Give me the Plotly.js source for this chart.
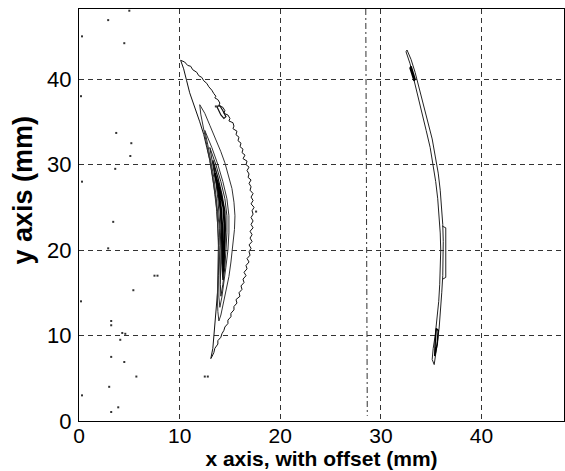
<!DOCTYPE html>
<html>
<head>
<meta charset="utf-8">
<script src="https://cdn.plot.ly/plotly-3.0.1.min.js"></script>
<style>html,body{margin:0;padding:0;background:#fff;}#chart{width:565px;height:471px;}</style>
</head>
<body>
<div id="chart"></div>
<script>
// ---- tick labels ----
const xTickVals = [0, 10, 20, 30, 40];
const xTickText = ["0", "10", "20", "30", "40"];
const yTickVals = [0, 10, 20, 30, 40];
const yTickText = ["0", "10", "20", "30", "40"];

// ---- left crescent: outer (jagged) contour ----
const leftOuterX = [10.1,10.5,10.8,11.1,11.3,11.7,11.9,12.2,12.4,12.7,12.9,13.2,13.4,13.6,13.5,13.8,14.0,13.9,14.3,14.5,14.4,14.8,15.0,14.9,15.3,15.4,15.3,15.7,15.6,15.9,15.8,16.1,16.0,16.3,16.2,16.5,16.3,16.7,16.6,16.9,16.7,16.9,16.8,17.1,16.9,17.1,17.0,17.3,17.1,17.3,17.1,17.4,17.2,17.3,17.1,17.3,17.1,17.3,17.0,17.2,17.0,17.2,16.9,17.1,16.9,17.0,16.7,16.9,16.6,16.7,16.4,16.6,16.3,16.4,16.1,16.2,15.9,16.0,15.6,15.7,15.4,15.4,15.1,15.1,14.8,14.8,14.5,14.4,14.2,14.1,13.8,13.8,13.5,13.4,13.2,13.1,13.3,13.4,13.5,13.6,13.7,13.8,13.85,13.9,13.9,13.85,13.8,13.7,13.6,13.4,13.2,13.0,12.7,12.4,12.0,11.4,11.0,10.7,10.4,10.1];
const leftOuterY = [42.2,42.0,41.6,41.5,41.1,40.8,40.4,40.2,39.8,39.5,39.1,38.7,38.3,38.0,37.8,37.6,37.2,36.9,36.7,36.3,36.0,35.8,35.4,35.1,34.9,34.5,34.2,33.9,33.5,33.2,32.8,32.5,32.1,31.8,31.4,31.1,30.7,30.4,30.0,29.7,29.3,28.9,28.5,28.2,27.8,27.4,27.0,26.6,26.2,25.8,25.4,25.0,24.6,24.2,23.8,23.4,23.0,22.6,22.2,21.8,21.4,21.0,20.6,20.2,19.8,19.4,19.0,18.6,18.2,17.8,17.4,17.0,16.6,16.2,15.8,15.4,15.0,14.6,14.2,13.8,13.4,13.0,12.6,12.2,11.8,11.4,11.0,10.6,10.2,9.8,9.4,9.0,8.5,8.0,7.5,7.3,8.5,9.8,11.0,12.5,14.0,15.5,17.0,18.5,20.0,21.5,23.0,24.5,26.0,27.5,29.0,30.5,32.0,33.5,35.0,37.0,38.4,39.8,41.2,42.2];

// ---- left crescent: inner contours ----
const leftC2X = [12.0,12.5,13.0,13.6,14.1,14.5,14.9,15.2,15.4,15.5,15.45,15.3,15.1,14.9,14.6,14.3,14.1,13.9,13.8,13.75,13.8,13.85,13.85,13.8,13.7,13.5,13.3,13.0,12.7,12.4,12.1,12.0];
const leftC2Y = [37.0,36.0,34.6,33.0,31.5,30.2,28.6,27.2,25.6,24.0,22.4,20.5,18.6,16.9,15.2,13.6,12.4,11.7,12.8,14.5,16.5,18.5,20.5,22.5,24.5,26.5,28.5,30.5,32.3,34.2,35.9,37.0];
const leftC3X = [12.5,13.2,13.8,14.3,14.7,14.9,14.9,14.8,14.6,14.4,14.2,14.0,13.9,13.9,13.95,14.0,13.95,13.8,13.6,13.4,13.1,12.8,12.5];
const leftC3Y = [34.0,32.0,30.0,28.0,26.0,24.0,22.0,20.0,18.0,16.0,14.5,13.3,14.5,16.5,18.5,20.5,22.5,24.5,26.5,28.5,30.5,32.3,34.0];
const leftC4X = [13.0,13.6,14.1,14.5,14.7,14.7,14.6,14.5,14.3,14.1,14.05,14.1,14.1,14.05,13.95,13.8,13.6,13.3,13.0];
const leftC4Y = [32.0,30.0,28.0,26.0,24.0,22.0,20.0,18.0,16.0,14.6,16.0,18.0,20.0,22.0,24.0,26.0,28.0,30.0,32.0];
const leftC5X = [13.3,13.8,14.2,14.5,14.55,14.5,14.4,14.3,14.2,14.2,14.15,14.05,13.85,13.6,13.3];
const leftC5Y = [30.5,28.5,26.5,24.5,22.5,20.5,18.5,16.5,18.5,20.5,22.5,24.5,26.5,28.5,30.5];
const leftC6X = [13.5,14.0,14.35,14.45,14.45,14.4,14.35,14.28,14.28,14.22,14.1,13.85,13.5];
const leftC6Y = [29.0,27.0,25.0,23.0,21.0,19.0,17.5,19.0,21.0,23.0,25.0,27.0,29.0];
const leftIslandX = [13.7,14.0,14.3,14.6,14.4,14.1,13.9,13.7];
const leftIslandY = [36.8,36.9,36.3,35.6,35.4,35.8,36.3,36.8];

// ---- right crescent ----
const rightOuterX = [32.6,33.0,33.4,33.8,34.2,34.7,35.1,35.4,35.7,35.9,36.05,36.15,36.2,36.2,36.15,36.05,35.95,35.8,35.65,35.5,35.3,35.1,35.2,35.4,35.6,35.75,35.85,35.9,35.95,35.9,35.8,35.65,35.45,35.2,34.9,34.5,34.1,33.7,33.3,32.9,32.5,32.6];
const rightOuterY = [43.4,42.3,40.8,39.0,37.0,35.0,33.0,31.0,29.0,27.0,25.0,23.0,21.0,19.0,17.0,15.0,13.0,11.0,9.5,8.0,6.6,7.2,8.5,10.0,12.0,14.0,16.0,18.0,20.0,22.0,24.0,26.0,28.0,30.0,32.0,34.0,36.0,38.0,40.0,41.8,43.2,43.4];
const rightSliverX = [36.1,36.45,36.45,36.15];
const rightSliverY = [22.8,22.6,16.8,16.6];
const rightLowX = [35.35,35.6,35.7,35.5,35.4,35.35];
const rightLowY = [7.6,9.0,10.6,10.8,9.2,7.6];
const rightTopX = [33.0,33.4,33.3,32.9,33.0];
const rightTopY = [41.5,40.0,39.8,41.3,41.5];

// ---- faint vertical artefact line ----
const vLineX = [28.5, 28.65];
const vLineY = [48.2, 0.6];

// ---- scattered noise specks ----
const noiseX = [4.5,2.9,3.7,5.2,3.6,5.1,3.4,2.9,7.5,7.8,5.4,3.2,3.2,4.3,4.6,4.1,3.2,4.5,5.7,12.5,12.8,3.0,3.2,3.9,13.6,17.6,0.3,0.2,0.3,0.2,0.3,5.0];
const noiseY = [44.2,46.9,33.7,32.5,29.5,31.0,23.3,20.2,17.0,17.0,15.3,11.7,11.2,10.3,10.2,9.5,7.5,6.9,5.2,5.2,5.2,4.0,1.05,1.6,36.8,24.5,45.0,38.0,28.0,14.0,3.0,48.0];

function trace(x, y, w, col) {
  return {type: 'scatter', mode: 'lines', x: x, y: y, hoverinfo: 'skip',
          line: {color: col || '#000', width: w || 1}};
}

const data = [
  trace(leftOuterX, leftOuterY, 1, '#111'),
  trace(leftC2X, leftC2Y, 1, '#333'),
  trace(leftC3X, leftC3Y, 1, '#333'),
  trace(leftC4X, leftC4Y, 1, '#222'),
  trace(leftC5X, leftC5Y, 1.3, '#111'),
  trace(leftC6X, leftC6Y, 2, '#000'),
  trace(leftIslandX, leftIslandY, 1.2, '#111'),
  trace(rightOuterX, rightOuterY, 1, '#222'),
  trace(rightSliverX, rightSliverY, 1, '#222'),
  trace(rightLowX, rightLowY, 1.5, '#000'),
  trace(rightTopX, rightTopY, 1.5, '#000'),
  {type: 'scatter', mode: 'lines', x: vLineX, y: vLineY, hoverinfo: 'skip',
   line: {color: '#333', width: 1, dash: '6px,3px,2px,3px'}},
  {type: 'scatter', mode: 'markers', x: noiseX, y: noiseY, hoverinfo: 'skip',
   marker: {color: '#333', size: 2, symbol: 'square'}}
];

const fontFam = '"Liberation Sans", Arial, sans-serif';
const axisCommon = {
  range: [0, 48.2],
  showgrid: true, gridcolor: '#333', gridwidth: 1, griddash: '5px,4px',
  zeroline: false,
  showline: true, linecolor: '#000', linewidth: 1, mirror: true,
  ticks: '',
  tickfont: {size: 21, color: '#000', family: fontFam},
  automargin: false, fixedrange: true
};

const layout = {
  width: 565, height: 471,
  margin: {l: 79, r: 1, t: 9, b: 50},
  paper_bgcolor: '#fff', plot_bgcolor: '#fff',
  showlegend: false,
  font: {family: fontFam, color: '#000'},
  xaxis: Object.assign({}, axisCommon, {
    tickvals: xTickVals, ticktext: xTickText, ticklabelstandoff: -4,
    title: {text: 'x axis, with offset (mm)', standoff: 1,
            font: {size: 21, weight: 'bold', color: '#000', family: fontFam}}
  }),
  yaxis: Object.assign({}, axisCommon, {
    tickfont: {size: 22, color: '#000', family: fontFam},
    tickvals: yTickVals, ticktext: yTickText, ticklabelstandoff: 2,
    title: {text: ''}
  }),
  annotations: [{
    text: 'y axis (mm)', textangle: -90,
    xref: 'paper', yref: 'paper', x: -0.115, y: 0.56,
    xanchor: 'center', yanchor: 'middle', showarrow: false,
    font: {size: 27, weight: 'bold', color: '#000', family: fontFam}
  }]
};

Plotly.newPlot('chart', data, layout, {displayModeBar: false, staticPlot: true});
</script>
</body>
</html>
